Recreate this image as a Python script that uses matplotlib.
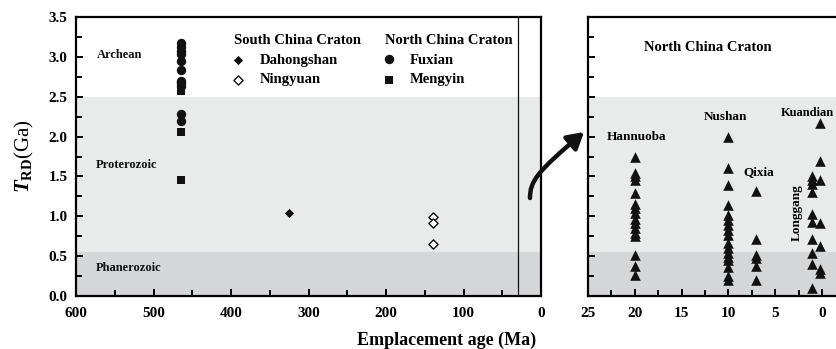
import matplotlib
matplotlib.use("Agg")
import matplotlib.pyplot as plt
from matplotlib.patches import FancyArrowPatch
from matplotlib.path import Path
from matplotlib.ticker import MultipleLocator, FormatStrFormatter

plt.rcParams["font.family"] = ["Liberation Serif", "DejaVu Serif"]
plt.rcParams["font.weight"] = "bold"
plt.rcParams["mathtext.fontset"] = "custom"
plt.rcParams["mathtext.rm"] = "Liberation Serif:bold"
plt.rcParams["mathtext.it"] = "Liberation Serif:italic:bold"
plt.rcParams["mathtext.bf"] = "Liberation Serif:bold"

# ---- kimberlite / basalt emplacement ages (Ma) and TRD model ages (Ga) ----
fuxian_age = 465
fuxian_trd = [3.17, 3.12, 3.07, 3.03, 2.95, 2.83, 2.70, 2.67, 2.64, 2.28, 2.19]
mengyin_age = 465
mengyin_trd = [2.60, 2.57, 2.06, 1.46]
dahongshan_age = 325
dahongshan_trd = [1.04]
ningyuan_age = 140
ningyuan_trd = [0.99, 0.91, 0.65]

hannuoba_age = 20
hannuoba_trd = [1.75, 1.54, 1.50, 1.45, 1.29, 1.16, 1.10, 1.04, 0.97, 0.91,
                0.85, 0.79, 0.75, 0.51, 0.38, 0.26]
nushan_age = 10
nushan_trd = [2.00, 1.60, 1.39, 1.14, 1.02, 0.95, 0.89, 0.83, 0.77, 0.66,
              0.60, 0.54, 0.49, 0.45, 0.37, 0.25, 0.20]
qixia_age = 7
qixia_trd = [1.32, 0.72, 0.52, 0.48, 0.38, 0.20]
longgang_age = 1.1
longgang_trd = [1.51, 1.46, 1.41, 1.31, 1.03, 0.93, 0.72, 0.54, 0.40, 0.10]
kuandian_age = 0.2
kuandian_trd = [2.17, 1.69, 1.46, 0.91, 0.63, 0.34, 0.29]

# geological eon boundaries (Ga)
phanerozoic_top = 0.55
proterozoic_top = 2.5
ymax = 3.5

LIGHT = "#e9eaea"
DARK = "#d5d6d8"
INK = "#111111"

fig = plt.figure(figsize=(8.36, 3.49), dpi=100)
W, H = 836.0, 349.0


def px_axes(x0, x1, y0, y1):
    return fig.add_axes([x0 / W, 1 - y1 / H, (x1 - x0) / W, (y1 - y0) / H])


def fig_pt(x, y):
    return (x / W, 1 - y / H)


ax1 = px_axes(76, 541, 17, 296)
ax2 = px_axes(588, 836, 17, 296)

for ax in (ax1, ax2):
    ax.axhspan(0, phanerozoic_top, color=DARK, lw=0, zorder=0)
    ax.axhspan(phanerozoic_top, proterozoic_top, color=LIGHT, lw=0, zorder=0)
    ax.set_ylim(0, ymax)
    ax.yaxis.set_major_locator(MultipleLocator(0.5))
    ax.yaxis.set_minor_locator(MultipleLocator(0.25))
    ax.tick_params(which="both", direction="in", top=False, right=False,
                   width=1.4, labelsize=11)
    ax.tick_params(which="major", length=5)
    ax.tick_params(which="minor", length=4)
    ax.tick_params(axis="x", pad=8)
    ax.tick_params(axis="y", pad=6)
    for s in ax.spines.values():
        s.set_linewidth(1.6)

# ---------------- left panel ----------------
ax1.set_xlim(600, 0)
ax1.xaxis.set_major_locator(MultipleLocator(100))
ax1.xaxis.set_minor_locator(MultipleLocator(50))
ax1.yaxis.set_major_formatter(FormatStrFormatter("%.1f"))
ax1.axvline(30, color=INK, lw=0.9, zorder=1)

ax1.scatter([fuxian_age] * len(fuxian_trd), fuxian_trd, marker="o", s=46,
            color=INK, lw=0, zorder=3)
ax1.scatter([mengyin_age] * len(mengyin_trd), mengyin_trd, marker="s", s=30,
            color=INK, lw=0, zorder=3)
ax1.scatter([dahongshan_age] * len(dahongshan_trd), dahongshan_trd, marker="D",
            s=22, color=INK, lw=0, zorder=3)
ax1.scatter([ningyuan_age] * len(ningyuan_trd), ningyuan_trd, marker="D",
            s=22, facecolor="white", edgecolor=INK, lw=1.0, zorder=3)

eon_kw = dict(fontsize=9, ha="left", va="center", color=INK)
ax1.text(573, 3.02, "Archean", **eon_kw)
ax1.text(574, 1.64, "Proterozoic", **eon_kw)
ax1.text(574, 0.35, "Phanerozoic", **eon_kw)

# legend block
lab = 10.5
ax1.text(396, 3.21, "South China Craton", fontsize=lab, ha="left", va="center")
ax1.text(201, 3.21, "North China Craton", fontsize=lab, ha="left", va="center")
ax1.scatter([391], [2.96], marker="D", s=22, color=INK, lw=0)
ax1.scatter([391], [2.71], marker="D", s=22, facecolor="white", edgecolor=INK, lw=1.0)
ax1.scatter([196], [2.97], marker="o", s=46, color=INK, lw=0)
ax1.scatter([196], [2.71], marker="s", s=30, color=INK, lw=0)
ax1.text(363, 2.96, "Dahongshan", fontsize=lab, ha="left", va="center")
ax1.text(363, 2.71, "Ningyuan", fontsize=lab, ha="left", va="center")
ax1.text(169, 2.96, "Fuxian", fontsize=lab, ha="left", va="center")
ax1.text(169, 2.71, "Mengyin", fontsize=lab, ha="left", va="center")

ax1.set_ylabel(r"$T_{\mathrm{RD}}$(Ga)", fontsize=15, labelpad=9)

# ---------------- right panel ----------------
ax2.set_xlim(25, -1.5)
ax2.xaxis.set_major_locator(MultipleLocator(5))
ax2.xaxis.set_minor_locator(MultipleLocator(2.5))
ax2.tick_params(axis="y", labelleft=False)
ax2.spines["right"].set_visible(False)

tri = dict(marker="^", s=58, color=INK, lw=0, zorder=3)
for age, vals in [(hannuoba_age, hannuoba_trd), (nushan_age, nushan_trd),
                  (qixia_age, qixia_trd), (longgang_age, longgang_trd),
                  (kuandian_age, kuandian_trd)]:
    ax2.scatter([age] * len(vals), vals, **tri)

ax2.text(12.2, 3.12, "North China Craton", fontsize=lab, ha="center", va="center")
site_kw = dict(fontsize=9.5, va="center")
ax2.text(19.8, 1.99, "Hannuoba", ha="center", **site_kw)
ax2.text(10.3, 2.25, "Nushan", ha="center", **site_kw)
ax2.text(6.8, 1.56, "Qixia", ha="center", **site_kw)
ax2.text(-1.3, 2.30, "Kuandian", ha="right", fontsize=9, va="center")
ax2.text(2.7, 1.04, "Longgang", ha="center", rotation=90, **site_kw)

fig.text(447 / W, 1 - 340 / H, "Emplacement age (Ma)", fontsize=13,
         ha="center", va="center")

# curved arrow linking the two panels
arrow_path = Path([fig_pt(530, 198), fig_pt(530, 181), fig_pt(537, 172),
                   fig_pt(584, 132)],
                  [Path.MOVETO, Path.CURVE4, Path.CURVE4, Path.CURVE4])
arrow = FancyArrowPatch(path=arrow_path, transform=fig.transFigure,
                        arrowstyle="-|>,head_length=6,head_width=3.5",
                        lw=3.2, color=INK, mutation_scale=1.6)
fig.add_artist(arrow)

fig.savefig("out.png", dpi=100)
